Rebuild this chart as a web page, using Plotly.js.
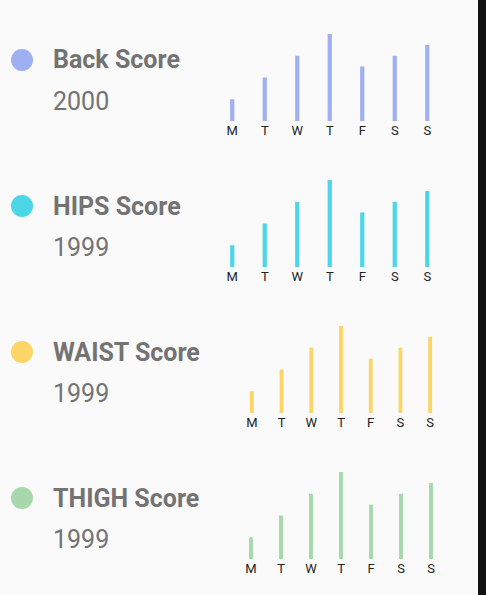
<!DOCTYPE html>
<html><head><script src="https://cdn.plot.ly/plotly-3.0.1.min.js"></script>
<style>body{margin:0;background:#fafafa}</style></head><body>
<div id="c" style="width:486px;height:595px"></div>
<script>
const days = ["M","T","W","T","F","S","S"];
const titles = ["Back Score","HIPS Score","WAIST Score","THIGH Score"];
const scores = ["2000","1999","1999","1999"];
const colors = ["#9fb0f2","#4dd5e8","#fdd567","#a6d8ab"];
const backVals = [1,2,3,4,2.5,3,3.5];
const hipsVals = [1,2,3,4,2.5,3,3.5];
const waistVals = [1,2,3,4,2.5,3,3.5];
const thighVals = [1,2,3,4,2.5,3,3.5];
const series = [backVals,hipsVals,waistVals,thighVals];

const W=486,H=595;
// pixel layout for each row: [xLeft, xRight, baseline, top, titleY]
const rows = [[216,443.5,121,34,60],[216,443.5,267,180,206],[237,445,413,326,352],[236,446,559,472,498]];
const data=[],layout={width:W,height:H,margin:{l:0,r:0,t:0,b:0},paper_bgcolor:"#fafafa",plot_bgcolor:"rgba(0,0,0,0)",showlegend:false,annotations:[],shapes:[],bargap:0.87};
rows.forEach((r,i)=>{
  const n=i===0?"":String(i+1);
  data.push({type:"bar",x:[0,1,2,3,4,5,6],y:series[i],marker:{color:colors[i]},xaxis:"x"+n,yaxis:"y"+n,hoverinfo:"none"});
  layout["xaxis"+n]={domain:[r[0]/W,r[1]/W],range:[-0.5,6.5],tickvals:[0,1,2,3,4,5,6],ticktext:days,showgrid:false,zeroline:false,showline:false,ticks:"",tickfont:{family:"Roboto",size:13,color:"#222"},anchor:"y"+n,fixedrange:true};
  layout["yaxis"+n]={domain:[1-r[2]/H,1-r[3]/H],range:[0,4],visible:false,anchor:"x"+n,fixedrange:true};
  layout.shapes.push({type:"circle",xref:"paper",yref:"paper",x0:11/W,x1:33/W,y0:1-(r[4]+11)/H,y1:1-(r[4]-11)/H,fillcolor:colors[i],line:{width:0}});
  layout.annotations.push({xref:"paper",yref:"paper",x:51/W,y:1-r[4]/H,xanchor:"left",yanchor:"middle",showarrow:false,text:"<b>"+titles[i]+"</b>",font:{family:"Roboto",size:25,color:"#737373"}});
  layout.annotations.push({xref:"paper",yref:"paper",x:51/W,y:1-(r[4]+41)/H,xanchor:"left",yanchor:"middle",showarrow:false,text:scores[i],font:{family:"Roboto",size:25,color:"#737373"}});
});
layout.shapes.push({type:"rect",xref:"paper",yref:"paper",x0:478/W,x1:1,y0:0,y1:1,fillcolor:"#111",line:{width:0}});
Plotly.newPlot("c",data,layout,{staticPlot:true});
</script></body></html>
